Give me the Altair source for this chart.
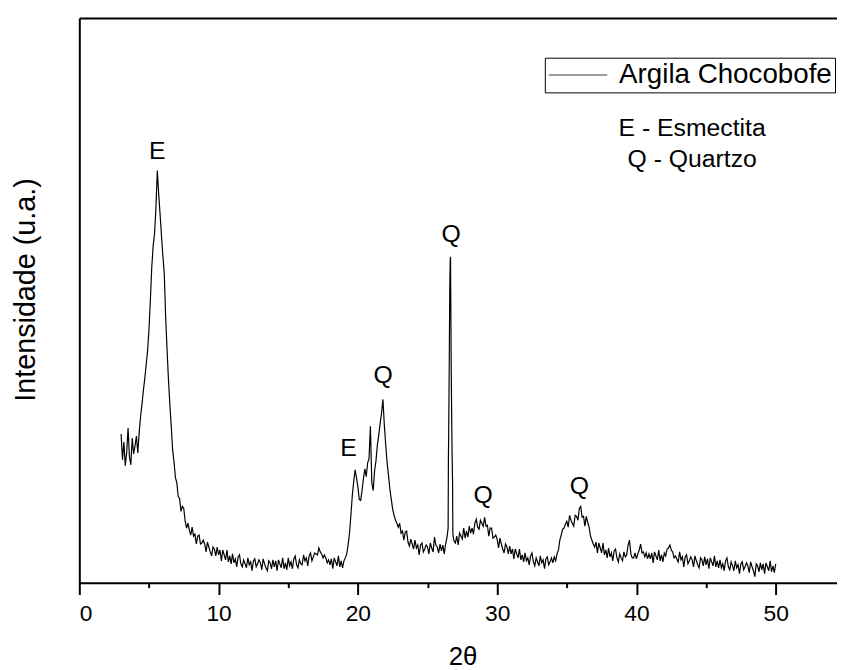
import altair as alt
import pandas as pd

FONT = "Liberation Sans"
series_name = "Argila Chocobofe"

# Intensity (arbitrary units), one row per degree,
# 0.1 degree steps, first row starts at 2theta = 3.0
start_deg = 3.0
step_deg = 0.1
intensity_rows = [
    [150, 124, 142, 118, 131, 156, 127, 119, 146, 130],  # 3
    [138, 148, 131, 152, 168, 180, 194, 206, 220, 234],  # 4
    [255, 285, 318, 340, 352, 378, 416, 392, 372, 350],  # 5
    [330, 312, 268, 235, 205, 180, 158, 134, 122, 106],  # 6
    [101, 87, 85, 72, 77, 75, 62, 55, 60, 53],           # 7
    [48, 56, 47, 49, 39, 47, 48, 39, 40, 43],            # 8
    [39, 31, 41, 36, 31, 27, 36, 34, 27, 36],            # 9
    [28, 33, 22, 33, 28, 23, 33, 21, 27, 19],            # 10
    [29, 20, 24, 16, 26, 28, 19, 16, 23, 19],            # 11
    [15, 25, 18, 21, 12, 22, 24, 16, 19, 23],            # 12
    [20, 13, 24, 19, 15, 12, 22, 20, 14, 23],            # 13
    [16, 22, 12, 23, 19, 15, 25, 14, 20, 13],            # 14
    [25, 17, 21, 14, 24, 27, 18, 15, 23, 19],            # 15
    [18, 28, 22, 25, 17, 27, 30, 22, 26, 30],            # 16
    [29, 28, 35, 31, 29, 25, 28, 25, 20, 23],            # 17
    [18, 24, 14, 25, 21, 17, 27, 16, 22, 15],            # 18
    [22, 25, 29, 38, 50, 68, 88, 102, 114, 106],         # 19
    [97, 84, 83, 93, 105, 115, 107, 121, 125, 158],      # 20
    [101, 93, 113, 123, 139, 149, 161, 171, 185, 159],   # 21
    [139, 121, 108, 94, 84, 74, 68, 63, 60, 56],         # 22
    [60, 50, 52, 43, 51, 52, 41, 37, 44, 39],            # 23
    [34, 43, 35, 38, 28, 38, 40, 31, 34, 38],            # 24
    [36, 29, 40, 35, 31, 46, 38, 36, 30, 39],            # 25
    [32, 38, 29, 39, 46, 125, 300, 220, 100, 42],        # 26
    [40, 47, 38, 50, 47, 44, 55, 45, 52, 46],            # 27
    [57, 50, 55, 49, 60, 64, 56, 54, 63, 60],            # 28
    [57, 66, 57, 58, 47, 55, 55, 45, 46, 48],            # 29
    [44, 35, 45, 39, 34, 30, 39, 36, 29, 37],            # 30
    [29, 34, 24, 34, 29, 25, 34, 23, 28, 21],            # 31
    [30, 22, 25, 18, 27, 30, 21, 17, 25, 21],            # 32
    [17, 27, 20, 23, 14, 24, 26, 18, 21, 25],            # 33
    [20, 26, 22, 29, 33, 43, 48, 54, 55, 59],            # 34
    [62, 56, 68, 63, 60, 57, 68, 67, 63, 75],            # 35
    [77, 66, 67, 57, 67, 61, 56, 47, 43, 39],            # 36
    [36, 41, 30, 40, 35, 30, 40, 28, 33, 25],            # 37
    [35, 26, 30, 22, 32, 34, 25, 21, 29, 25],            # 38
    [22, 31, 26, 28, 38, 43, 29, 25, 25, 30],            # 39
    [24, 29, 33, 39, 30, 31, 26, 30, 24, 29],            # 40
    [24, 30, 20, 31, 27, 23, 33, 22, 28, 21],            # 41
    [30, 27, 34, 35, 38, 33, 31, 25, 27, 24],            # 42
    [21, 31, 23, 26, 16, 26, 28, 19, 22, 26],            # 43
    [23, 16, 27, 22, 18, 15, 25, 23, 17, 26],            # 44
    [18, 24, 14, 25, 21, 17, 27, 16, 22, 15],            # 45
    [23, 15, 19, 12, 22, 25, 16, 13, 21, 17],            # 46
    [12, 22, 15, 18, 9, 19, 21, 13, 16, 20],             # 47
    [17, 10, 21, 16, 12, 6, 19, 17, 11, 20],             # 48
    [13, 19, 9, 20, 16, 12, 22, 11, 17, 10],             # 49
    [19],                                                # 50
]

# Extra detail around the sharp quartz reflection near 26.6 degrees
peak_detail_x = [26.48, 26.52, 26.56, 26.63, 26.65, 26.67, 26.74, 26.77, 26.82, 26.86]
peak_detail_y = [55, 150, 220, 325, 329, 290, 160, 125, 50, 45]

# Phase labels over the reflections
peak_labels = ["E", "E", "Q", "Q", "Q", "Q"]
peak_label_x = [5.59, 19.33, 21.81, 26.7, 29.0, 35.9]
peak_label_y = [428, 128, 202, 344, 80, 89]

# Key text
key_texts = ["E - Esmectita", "Q - Quartzo"]
key_x = [44.0, 44.0]
key_y = [451, 420]

x_major_ticks = [0, 10, 20, 30, 40, 50]
x_minor_ticks = [5, 15, 25, 35, 45]

xs, ys = [], []
for r, row in enumerate(intensity_rows):
    for j, v in enumerate(row):
        xs.append(round(start_deg + r + j * step_deg, 2))
        ys.append(v)
xs += peak_detail_x
ys += peak_detail_y
df = pd.DataFrame({"two_theta": xs, "intensity": ys, "series": series_name})
df = df.sort_values("two_theta").reset_index(drop=True)

labels_df = pd.DataFrame({"x": peak_label_x, "y": peak_label_y, "label": peak_labels})
key_df = pd.DataFrame({"x": key_x, "y": key_y, "label": key_texts})

x_scale = alt.Scale(domain=[0, 54.4], nice=False, zero=False)
y_scale = alt.Scale(domain=[0, 570], nice=False)

line = alt.Chart(df).mark_line(strokeWidth=1.2, clip=True).encode(
    x=alt.X(
        "two_theta:Q",
        scale=x_scale,
        axis=alt.Axis(
            orient="bottom", values=x_major_ticks, format="d",
            tickSize=12, tickWidth=2, tickColor="black",
            domainColor="black", domainWidth=2,
            labelFontSize=23, labelFont=FONT, labelColor="black", labelPadding=8,
            grid=False,
            title="2θ", titleFontSize=26, titleFont=FONT, titleFontWeight="normal",
            titleColor="black", titleX=387, titleY=83, titleBaseline="alphabetic",
        ),
    ),
    y=alt.Y(
        "intensity:Q",
        scale=y_scale,
        axis=alt.Axis(
            orient="left", ticks=False, labels=False, grid=False,
            domainColor="black", domainWidth=2,
            title="Intensidade (u.a.)", titleFontSize=29, titleFont=FONT,
            titleFontWeight="normal", titleColor="black",
            titleX=-45, titleY=274, titleBaseline="alphabetic", titleAngle=270,
        ),
    ),
    color=alt.Color(
        "series:N",
        scale=alt.Scale(range=["black"]),
        legend=alt.Legend(
            title=None, orient="none", legendX=470, legendY=40,
            symbolType="M-1,0L3.37,0", symbolSize=729, symbolStrokeWidth=1.5,
            symbolOpacity=0.5,
            labelFontSize=28, labelFont=FONT, labelColor="black", labelOffset=43,
            labelLimit=400,
            padding=3, strokeColor="black", fillColor="white",
        ),
    ),
)

peak_text = alt.Chart(labels_df).mark_text(
    fontSize=25, font=FONT, color="black", baseline="alphabetic", align="center"
).encode(
    x=alt.X(
        "x:Q", scale=x_scale,
        axis=alt.Axis(
            orient="bottom", values=x_minor_ticks, tickSize=5, tickWidth=2,
            tickColor="black", labels=False, domain=False, grid=False, title=None,
        ),
    ),
    y=alt.Y("y:Q", scale=y_scale, axis=None),
    text="label:N",
)

key_text = alt.Chart(key_df).mark_text(
    fontSize=25, font=FONT, color="black", baseline="alphabetic", align="center"
).encode(
    x=alt.X(
        "x:Q", scale=x_scale,
        axis=alt.Axis(
            orient="top", ticks=False, labels=False, grid=False, title=None,
            domainColor="black", domainWidth=2,
        ),
    ),
    y=alt.Y("y:Q", scale=y_scale, axis=None),
    text="label:N",
)

chart = (
    alt.layer(line, peak_text, key_text)
    .resolve_axis(x="independent", y="independent")
    .properties(
        width=765,
        height=570,
        padding={"left": 72, "top": 7, "right": 0, "bottom": 85},
        autosize=alt.AutoSizeParams(type="none"),
        background="white",
    )
    .configure_view(strokeWidth=0)
    .configure(font=FONT)
)

chart.save("out.html", embed_options={"renderer": "svg", "actions": False})
